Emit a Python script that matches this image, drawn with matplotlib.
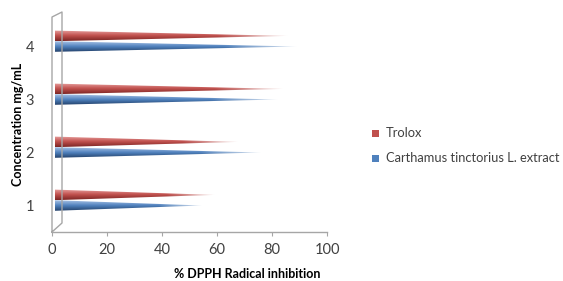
import matplotlib
matplotlib.use('Agg')
import numpy as np
import matplotlib.pyplot as plt
from matplotlib.patches import Polygon, Rectangle
from matplotlib.lines import Line2D
from matplotlib.colors import to_rgb

# Data
concentrations = [1, 2, 3, 4]
carthamus = [54.5, 76, 82, 89]
trolox = [59, 67.5, 84, 85.5]
x_ticks = [0, 20, 40, 60, 80, 100]

# Style
W, H, DPI = 563, 281, 100
RED = ['#e8a09e', '#c0504d', '#7d2624']
BLUE = ['#a8c2e6', '#4f81bd', '#24416a']
GRID = '#a6a6a6'
TEXT = '#404040'
FONT = 'Lato'
BAR_H = 0.2


def shade_image(cols, n=40, m=120):
    """Vertical shading light->mid->dark, fading to white near the tip"""
    top, mid, bot = [np.array(to_rgb(c)) for c in cols]
    img = np.zeros((n, m, 4))
    for i in range(n):
        t = i / (n - 1)
        if t < 0.5:
            c = top + (mid - top) * (t / 0.5)
        else:
            c = mid + (bot - mid) * ((t - 0.5) / 0.5)
        for j in range(m):
            s = j / (m - 1)
            fade = max(0.0, (s - 0.7) / 0.3)
            img[i, j, :3] = c + (1 - c) * fade * 0.8
            img[i, j, 3] = 1.0
    return img


def draw_cone(ax, value, y, cols):
    """Horizontal cone from 0 to value centred at y"""
    tri = Polygon([(1.0, y - BAR_H / 2), (1.0, y + BAR_H / 2), (value, y)],
                  closed=True, facecolor='none', edgecolor='none',
                  transform=ax.transData)
    ax.add_patch(tri)
    im = ax.imshow(shade_image(cols), extent=(1.0, value, y - BAR_H / 2, y + BAR_H / 2),
                   origin='upper', aspect='auto', interpolation='bilinear', zorder=3)
    im.set_clip_path(tri)


fig = plt.figure(figsize=(W / DPI, H / DPI), dpi=DPI)
ax = fig.add_axes([52 / W, (H - 232) / H, 275 / W, (232 - 20) / H])

for c, v_b, v_r in zip(concentrations, carthamus, trolox):
    draw_cone(ax, v_r, c + 0.2, RED)
    draw_cone(ax, v_b, c, BLUE)

ax.set_xlim(0, 100)
ax.set_ylim(0.5, 4.5)
for s in ax.spines.values():
    s.set_visible(False)
ax.set_xticks(x_ticks)
ax.set_yticks(concentrations)
ax.tick_params(axis='x', length=3, color=GRID, labelsize=10.5, labelcolor=TEXT, pad=5)
ax.tick_params(axis='y', length=0, labelsize=10.5, labelcolor=TEXT, pad=13)
for lbl in ax.get_xticklabels() + ax.get_yticklabels():
    lbl.set_fontfamily(FONT)

# Axis titles
fig.text(247 / W, 1 - 274 / H, '% DPPH Radical inhibition', fontsize=9,
         fontweight='bold', color='black', fontfamily=FONT, ha='center', va='center')
fig.text(18 / W, 1 - 124 / H, 'Concentration mg/mL', fontsize=9, rotation=90,
         fontweight='bold', color='black', fontfamily=FONT, ha='center', va='center')


# 3D frame (pixel coordinates)
def px_line(xs, ys):
    fig.add_artist(Line2D([x / W for x in xs], [1 - y / H for y in ys],
                          color=GRID, linewidth=1.0))


px_line([52, 52, 62, 62, 52], [232, 17, 12, 223, 232])
px_line([52, 327], [232, 232])

# Legend
fig.add_artist(Rectangle((372 / W, 1 - 137 / H), 7 / W, 7 / H, facecolor='#c0504d',
                         edgecolor='none', transform=fig.transFigure))
fig.text(386 / W, 1 - 133 / H, 'Trolox', fontsize=9.3, color=TEXT,
         fontfamily=FONT, va='center')
fig.add_artist(Rectangle((372 / W, 1 - 162 / H), 7 / W, 7 / H, facecolor='#4f81bd',
                         edgecolor='none', transform=fig.transFigure))
fig.text(386 / W, 1 - 158 / H, 'Carthamus tinctorius L. extract', fontsize=9.3,
         color=TEXT, fontfamily=FONT, va='center')

fig.savefig('out.png', dpi=DPI)
